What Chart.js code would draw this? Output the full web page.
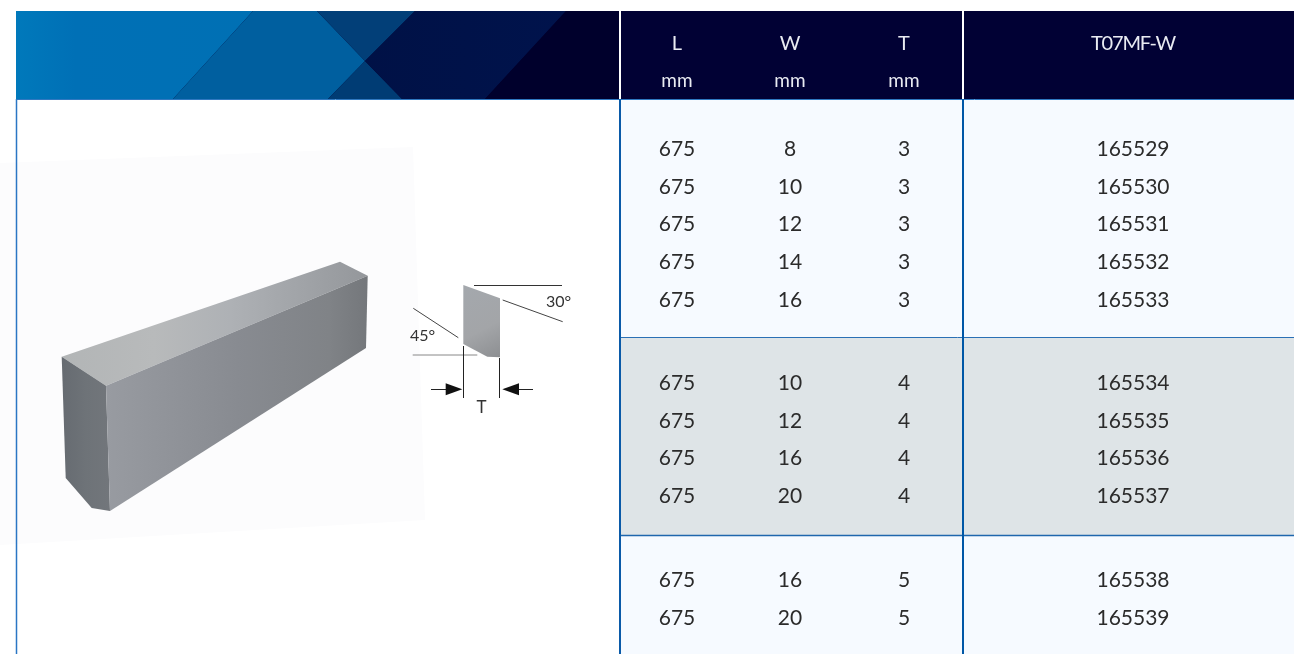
<!DOCTYPE html>
<html>
<head>
<meta charset="utf-8">
<style>html,body{margin:0;padding:0;background:#fff}canvas{display:block}</style>
<script src="https://cdn.jsdelivr.net/npm/chart.js@4"></script>
</head>
<body>
<canvas id="c" width="1294" height="654"></canvas>
<script>
const lengths = [675,675,675,675,675,675,675,675,675,675,675];
const widths = [8,10,12,14,16,10,12,16,20,16,20];
const thicknesses = [3,3,3,3,3,4,4,4,4,5,5];
const partNumbers = [165529,165530,165531,165532,165533,165534,165535,165536,165537,165538,165539];
const columnTitles = ['L','W','T','T07MF-W'];
const columnUnits = ['mm','mm','mm',''];

const rowY = [156,194,231,269,307,390,428,465,503,587,625];
const colX = [677,790,904,1133];
const FONT = 'Lato, "Open Sans", sans-serif';

function pts(x, vals){ return vals.map((v,i)=>({x, y:rowY[i], text:String(v)})); }

const tablePlugin = {
  id:'table',
  beforeDatasetsDraw(chart){
    const c = chart.ctx, X = chart.scales.x, Y = chart.scales.y;
    const px = p => [X.getPixelForValue(p[0]), Y.getPixelForValue(p[1])];
    const poly = (points, fill) => {
      c.beginPath();
      points.forEach((p,i)=>{const q=px(p); i?c.lineTo(q[0],q[1]):c.moveTo(q[0],q[1]);});
      c.closePath(); c.fillStyle = fill; c.fill();
    };
    const line = (a,b,col,w) => {
      const p=px(a), q=px(b);
      c.beginPath(); c.moveTo(p[0],p[1]); c.lineTo(q[0],q[1]);
      c.strokeStyle=col; c.lineWidth=w; c.stroke();
    };
    const grad = (a,b,stops) => {
      const p=px(a), q=px(b), g=c.createLinearGradient(p[0],p[1],q[0],q[1]);
      stops.forEach(s=>g.addColorStop(s[0],s[1])); return g;
    };
    c.save();
    // faint photo background
    poly([[0,163],[413,147],[425,520],[0,545]],'#fcfcfd');
    // right panels
    poly([[621,100],[1294,100],[1294,337],[621,337]],'#f6faff');
    poly([[621,337],[1294,337],[1294,535],[621,535]],'#dee4e7');
    poly([[621,535],[1294,535],[1294,654],[621,654]],'#f6faff');
    // header left banner
    poly([[16,11],[619,11],[619,99],[16,99]],'#000030');
    poly([[16,11],[253,11],[173,99],[16,99]],grad([16,0],[253,0],[[0,'#0079bb'],[0.25,'#0070b6'],[1,'#0070b4']]));
    poly([[253,11],[317,11],[365,61],[328,99],[173,99]],'#005f9f');
    poly([[317,11],[415,11],[365,61]],'#023f78');
    poly([[328,99],[365,61],[402,99]],'#003c74');
    poly([[415,11],[566,11],[485,99],[402,99],[365,61]],grad([365,0],[566,0],[[0,'#001146'],[1,'#00134c']]));
    poly([[566,11],[619,11],[619,99],[485,99]],'#00002c');
    // header right cells
    poly([[621,11],[962,11],[962,99],[621,99]],'#010134');
    poly([[964,11],[1294,11],[1294,99],[964,99]],'#010134');
    // table rules
    line([16,99.5],[1294,99.5],'#2f78c0',1);
    line([621,337.5],[1294,337.5],'#2a70b5',1);
    line([621,535.5],[1294,535.5],'#1e66ad',1.5);
    line([16.5,99],[16.5,654],'#2a76c4',1.5);
    line([620,99],[620,654],'#0a5aa8',2);
    line([963,99],[963,654],'#0057a6',2);
    // 3D blade
    poly([[61.7,356.7],[340,261.7],[367.7,275.7],[106,385.7]],grad([62,0],[368,0],[[0,'#b2b5b6'],[0.3,'#b8babb'],[0.55,'#aeb1b5'],[1,'#94979b']]));
    poly([[61.7,356.7],[106,385.7],[110,511],[91.7,508],[65.7,478]],grad([62,0],[110,0],[[0,'#666b71'],[0.5,'#6e7378'],[1,'#72767b']]));
    poly([[106,385.7],[367.7,275.7],[366,348],[110,511]],grad([106,0],[368,0],[[0,'#989ba1'],[0.5,'#888b91'],[0.85,'#808387'],[1,'#74777b']]));
    // section diagram
    poly([[463.3,285],[500,298.3],[500,357.3],[487.3,356.7],[463.3,344]],grad([463,285],[500,357],[[0,'#a4a8ad'],[0.6,'#a3a5a8'],[1,'#8d8f92']]));
    line([474,285.5],[562,285.5],'#333',1);
    line([502.7,300],[562.7,321.7],'#444',1);
    line([413.3,308.3],[458.3,337.7],'#444',1);
    line([412.7,355],[477.3,355],'#888',1);
    line([463.5,346],[463.5,398],'#222',1);
    line([499.5,358],[499.5,398],'#222',1);
    line([431,389.5],[446,389.5],'#222',1);
    line([519,389.5],[533,389.5],'#222',1);
    poly([[445.7,383.3],[462.3,389.3],[445.7,395.3]],'#111');
    poly([[519,383.3],[502.3,389.3],[519,395.3]],'#111');
    c.restore();
  },
  afterDatasetsDraw(chart){
    const c = chart.ctx, X = chart.scales.x, Y = chart.scales.y;
    c.save();
    c.textAlign='center'; c.textBaseline='alphabetic';
    // body cells from the datasets
    c.font = '21px '+FONT; c.fillStyle = '#2b2b2b';
    chart.data.datasets.forEach(ds=>ds.data.forEach(d=>{
      c.fillText(d.text, X.getPixelForValue(d.x), Y.getPixelForValue(d.y));
    }));
    // header
    c.fillStyle='#e9ebf2';
    columnTitles.forEach((t,i)=>{
      c.font='20px '+FONT;
      c.letterSpacing = i===3 ? '-1.2px' : '0px';
      c.fillText(t, X.getPixelForValue(colX[i]), Y.getPixelForValue(50));
      c.letterSpacing = '0px';
      if(columnUnits[i]){ c.font='19px '+FONT; c.fillText(columnUnits[i], X.getPixelForValue(colX[i]), Y.getPixelForValue(87)); }
    });
    // diagram labels
    c.fillStyle='#333'; c.font='16px '+FONT;
    c.textAlign='left';
    c.fillText('30°', X.getPixelForValue(546), Y.getPixelForValue(307));
    c.fillText('45°', X.getPixelForValue(410), Y.getPixelForValue(341));
    c.textAlign='center';
    c.font='17px '+FONT;
    c.fillText('T', X.getPixelForValue(481.5), Y.getPixelForValue(413));
    c.restore();
  }
};

new Chart(document.getElementById('c'),{
  type:'scatter',
  data:{datasets:[
    {label:'L',data:pts(colX[0],lengths),pointRadius:0},
    {label:'W',data:pts(colX[1],widths),pointRadius:0},
    {label:'T',data:pts(colX[2],thicknesses),pointRadius:0},
    {label:'T07MF-W',data:pts(colX[3],partNumbers),pointRadius:0}
  ]},
  options:{
    responsive:false,animation:false,
    layout:{padding:0},
    plugins:{legend:{display:false},tooltip:{enabled:false},title:{display:false}},
    scales:{
      x:{type:'linear',display:false,min:0,max:1294},
      y:{type:'linear',display:false,min:0,max:654,reverse:true}
    }
  },
  plugins:[tablePlugin]
});
</script>
</body>
</html>
